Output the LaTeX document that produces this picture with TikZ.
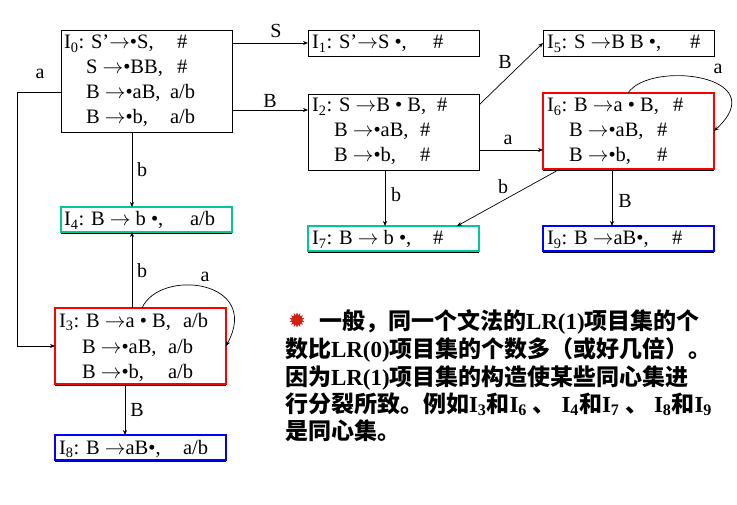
\documentclass[tikz,border=0pt]{standalone}
\usepackage{fontspec}
\setmainfont{Liberation Serif}
\newfontfamily\cjk{Noto Sans CJK SC}
\usetikzlibrary{arrows.meta,shapes.geometric,calc}
\definecolor{boxred}{HTML}{FF0000}
\definecolor{boxteal}{HTML}{00C896}
\definecolor{boxblue}{HTML}{0000FF}
\definecolor{burst}{HTML}{D42010}
\newcommand\sbx[1]{\textsubscript{#1}}
\newcommand\ra{\ensuremath{\rightarrow}}
\newcommand\bline[5]{\node[itm] (#1a) at (#2) {#3}; \node[itm] (#1b) at (#4) {#5};}
\newcommand\shadowline[1]{\draw[line width=0.9pt] ([yshift=-1.6pt]#1.south west) -- ([yshift=-1.6pt]#1.south east);}
\begin{document}
\begin{tikzpicture}[x=1pt,y=1pt,
  every node/.style={inner sep=0pt, outer sep=0pt},
  sbox/.style={anchor=north west, minimum width=171pt},
  plainbox/.style={sbox, draw=black, line width=0.9pt},
  redbox/.style={sbox, draw=boxred, line width=2.2pt},
  tealbox/.style={sbox, draw=boxteal, line width=2.2pt},
  bluebox/.style={sbox, draw=boxblue, line width=2.2pt},
  itm/.style={anchor=base west, font=\fontsize{20.5}{20.5}\selectfont},
  lbl/.style={font=\fontsize{20}{20}\selectfont},
  arr/.style={-{Stealth[length=5pt,width=4pt]}, line width=0.7pt},
  para/.style={anchor=base west, font=\fontsize{23}{27}\selectfont\bfseries}
]
\fill[white] (0,0) rectangle (737,-505);
\useasboundingbox (0,0) rectangle (737,-505);

% boxes
\node[plainbox, minimum height=102pt] (I0) at (61,-30) {};
\node[plainbox, minimum height=26pt] (I1) at (308,-30) {};
\node[plainbox, minimum height=26pt] (I5) at (543,-30) {};
\node[plainbox, minimum height=76pt] (I2) at (308,-94) {};
\node[redbox, minimum height=76pt] (I6) at (543,-93) {};
\node[tealbox, minimum height=25pt] (I4) at (61,-207) {};
\node[tealbox, minimum height=25pt] (I7) at (308,-226) {};
\node[bluebox, minimum height=25pt] (I9) at (543,-226) {};
\node[redbox, minimum height=76pt] (I3) at (55,-308) {};
\node[bluebox, minimum height=25pt] (I8) at (55,-435) {};
\shadowline{I4}\shadowline{I7}\shadowline{I9}\shadowline{I3}\shadowline{I6}\shadowline{I8}

% box texts
\bline{I0l1}{64,-49}{I\sbx{0}: S’\ra•S,}{177,-49}{\#}
\bline{I0l2}{86,-74}{S \ra•BB,}{177,-74}{\#}
\bline{I0l3}{86,-99}{B \ra•aB,}{170,-99}{a/b}
\bline{I0l4}{86,-124}{B \ra•b,}{170,-124}{a/b}
\bline{I1l1}{312,-49}{I\sbx{1}: S’\ra S •,}{433,-49}{\#}
\bline{I5l1}{547,-49}{I\sbx{5}: S \ra B B •,}{690,-49}{\#}
\bline{I2l1}{312,-112}{I\sbx{2}: S \ra B • B,}{437,-112}{\#}
\bline{I2l2}{334,-137}{B \ra•aB,}{420,-137}{\#}
\bline{I2l3}{334,-162}{B \ra•b,}{420,-162}{\#}
\bline{I6l1}{547,-112}{I\sbx{6}: B \ra a • B,}{673,-112}{\#}
\bline{I6l2}{569,-137}{B \ra•aB,}{657,-137}{\#}
\bline{I6l3}{569,-162}{B \ra•b,}{657,-162}{\#}
\bline{I4l1}{64,-226}{I\sbx{4}: B \ra{} b •,}{190,-226}{a/b}
\bline{I7l1}{312,-245}{I\sbx{7}: B \ra{} b •,}{433,-245}{\#}
\bline{I9l1}{547,-245}{I\sbx{9}: B \ra aB•,}{672,-245}{\#}
\bline{I3l1}{59,-327}{I\sbx{3}: B \ra a • B,}{183,-327}{a/b}
\bline{I3l2}{82,-353}{B \ra•aB,}{168,-353}{a/b}
\bline{I3l3}{82,-378}{B \ra•b,}{168,-378}{a/b}
\bline{I8l1}{59,-454}{I\sbx{8}: B \ra aB•,}{183,-454}{a/b}

% connectors
\draw[arr] (I0.east |- I1.west) -- (I1.west);
\coordinate (c02) at ($(I0.north east)+(0,-80)$);
\draw[arr] (c02) -- (c02 -| I2.west);
\coordinate (ca1) at (17,-92);
\coordinate (ca2) at (17,-346);
\draw[arr] (I0.west |- ca1) -- (ca1) -- (ca2) -- (ca2 -| I3.west);
\coordinate (xb) at (132,0);
\draw[arr] (I0.south -| xb) -- (I4.north -| xb);
\draw[arr] (I3.north -| xb) -- (I4.south -| xb);
\coordinate (x38) at (125,0);
\draw[arr] (I3.south -| x38) -- (I8.north -| x38);
\draw[arr] ([yshift=-11pt]I2.north east) -- (I5.west);
\coordinate (y26) at (0,-150);
\draw[arr] (I2.east |- y26) -- (I6.west |- y26);
\coordinate (x27) at (385,0);
\draw[arr] (I2.south -| x27) -- (I7.north -| x27);
\draw[arr] ([xshift=17pt]I6.south west) -- ([xshift=149pt]I7.north west);
\coordinate (x69) at (612,0);
\draw[arr] (I6.south -| x69) -- (I9.north -| x69);
\draw[arr] ([xshift=87pt]I3.north west) .. controls (160,-268) and (262,-280) .. (I3.east);
\draw[arr] ([xshift=85pt]I6.north west) .. controls (650,-60) and (775,-75) .. (I6.east);

% connector labels
\node[lbl] (lS) at (276,-31) {S};
\node[lbl] (lB02) at (270,-101) {B};
\node[lbl] (la03) at (40,-74) {a};
\node[lbl] (lb04) at (142,-170) {b};
\node[lbl] (lb34) at (142,-271) {b};
\node[lbl] (la33) at (205,-277) {a};
\node[lbl] (lB38) at (137,-410) {B};
\node[lbl] (lB25) at (505,-62) {B};
\node[lbl] (la26) at (508,-140) {a};
\node[lbl] (la66) at (718,-69) {a};
\node[lbl] (lb27) at (396,-195) {b};
\node[lbl] (lb67) at (503,-187) {b};
\node[lbl] (lB69) at (625,-201) {B};

% paragraph
\node[star, star points=14, star point ratio=1.5, fill=burst, minimum size=15pt] (bul) at (297,-320) {};
\node[para] (p1) at (319,-330) {{\cjk 一般，同一个文法的}LR(1){\cjk 项目集的个}};
\node[para] (p2) at (285,-357) {{\cjk 数比}LR(0){\cjk 项目集的个数多（或好几倍）。}};
\node[para] (p3) at (285,-385) {{\cjk 因为}LR(1){\cjk 项目集的构造使某些同心集进}};
\node[para] (p4) at (285,-412) {{\cjk 行分裂所致。例如}I\sbx{3}{\cjk 和}I\sbx{6} {\cjk 、} I\sbx{4}{\cjk 和}I\sbx{7} {\cjk 、} I\sbx{8}{\cjk 和}I\sbx{9}};
\node[para] (p5) at (285,-439) {{\cjk 是同心集。}};
\end{tikzpicture}
\end{document}
